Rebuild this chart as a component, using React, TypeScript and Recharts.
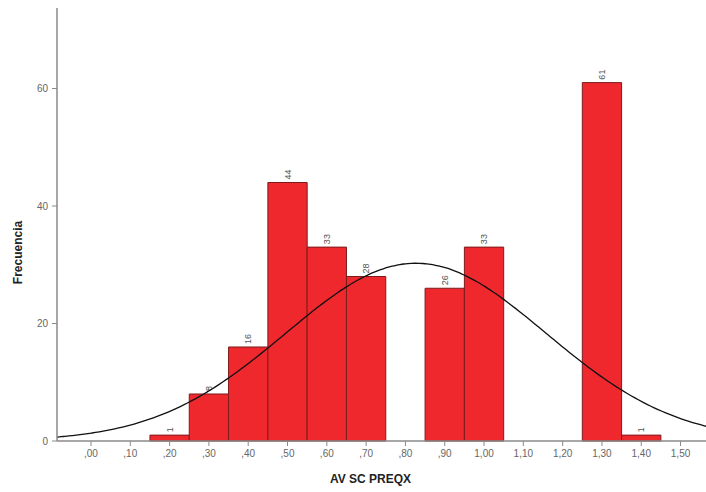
import React from "react";
import {
  ComposedChart,
  Line,
  XAxis,
  YAxis,
  ReferenceArea,
  Label,
} from "recharts";

// histogram bins (centre of each 0.10-wide class) and their counts
const binCenters = [0.2, 0.3, 0.4, 0.5, 0.6, 0.7, 0.9, 1.0, 1.3, 1.4];
const binCounts = [1, 8, 16, 44, 33, 28, 26, 33, 61, 1];
const binWidth = 0.1;

const xTicks = [0, 0.1, 0.2, 0.3, 0.4, 0.5, 0.6, 0.7, 0.8, 0.9, 1.0, 1.1, 1.2, 1.3, 1.4, 1.5];
const yTicks = [0, 20, 40, 60];

const X_MIN = -0.0865;
const X_MAX = 1.58;
const Y_MAX = 73.7;

const FONT = "'Liberation Sans', Arial, sans-serif";
const AXIS_GREY = "#8a8a8a";
const BAR_FILL = "#ef282e";
const BAR_EDGE = "#7d1b1b";

// normal curve fitted to the binned counts (same mean / sd, scaled to count * bin width)
const total = binCounts.reduce((a, b) => a + b, 0);
const mean = binCenters.reduce((s, x, i) => s + x * binCounts[i], 0) / total;
const variance =
  binCenters.reduce((s, x, i) => s + (x - mean) ** 2 * binCounts[i], 0) / total;
const sd = Math.sqrt(variance);

const normalCurve: { x: number; y: number }[] = [];
for (let i = 0; i <= 170; i++) {
  const x = X_MIN + ((X_MAX - X_MIN) * i) / 170;
  const y =
    ((total * binWidth) / (sd * Math.sqrt(2 * Math.PI))) *
    Math.exp(-((x - mean) ** 2) / (2 * variance));
  normalCurve.push({ x, y });
}

const fmtTick = (v: number) => {
  const s = v.toFixed(2).replace(".", ",");
  return s.startsWith("0") ? s.slice(1) : s;
};

function CountLabel(props: any) {
  const { viewBox, value } = props;
  if (!viewBox) return null;
  const cx = viewBox.x + viewBox.width / 2;
  const top = viewBox.y - 3;
  return (
    <text
      x={cx}
      y={top}
      transform={`rotate(-90 ${cx} ${top})`}
      textAnchor="start"
      dominantBaseline="central"
      fontSize={9}
      fontFamily={FONT}
      fill="#555"
    >
      {value}
    </text>
  );
}

export default function App() {
  return (
    <div
      style={{
        position: "absolute",
        left: 0,
        top: 0,
        width: 706,
        height: 492,
        overflow: "hidden",
        background: "#fff",
      }}
    >
      <ComposedChart
        width={712}
        height={492}
        margin={{ top: 8, right: 0, left: 7, bottom: 4 }}
      >
        <XAxis
          xAxisId="top"
          orientation="top"
          type="number"
          dataKey="x"
          domain={[X_MIN, X_MAX]}
          allowDataOverflow
          height={0}
          tick={false}
          tickLine={false}
          axisLine={{ stroke: AXIS_GREY, strokeWidth: 1.5 }}
        />
        <XAxis
          type="number"
          dataKey="x"
          domain={[X_MIN, X_MAX]}
          allowDataOverflow
          ticks={xTicks}
          interval={0}
          tickFormatter={fmtTick}
          height={47}
          tickSize={5}
          tickMargin={4}
          axisLine={{ stroke: AXIS_GREY, strokeWidth: 1.5 }}
          tickLine={{ stroke: AXIS_GREY }}
          tick={{ fontSize: 10, fill: "#666", fontFamily: FONT }}
        >
          <Label
            value="AV SC PREQX"
            position="insideBottom"
            offset={5}
            dx={-14}
            style={{ fontSize: 12, fontWeight: 700, fill: "#222", fontFamily: FONT }}
          />
        </XAxis>
        <YAxis
          type="number"
          domain={[0, Y_MAX]}
          allowDataOverflow
          ticks={yTicks}
          width={50}
          tickSize={5}
          tickMargin={4}
          axisLine={{ stroke: AXIS_GREY, strokeWidth: 1.5 }}
          tickLine={{ stroke: AXIS_GREY }}
          tick={{ fontSize: 10, fill: "#666", fontFamily: FONT }}
        >
          <Label
            content={({ viewBox }: any) => {
              const x = 18;
              const y = viewBox.y + viewBox.height / 2 + 28;
              return (
                <text
                  x={x}
                  y={y}
                  transform={`rotate(-90 ${x} ${y})`}
                  textAnchor="middle"
                  dominantBaseline="central"
                  fontSize={12}
                  fontWeight={700}
                  fontFamily={FONT}
                  fill="#222"
                >
                  Frecuencia
                </text>
              );
            }}
          />
        </YAxis>
        {binCenters.map((c, i) => (
          <ReferenceArea
            key={c}
            x1={c - binWidth / 2}
            x2={c + binWidth / 2}
            y1={0}
            y2={binCounts[i]}
            fill={BAR_FILL}
            fillOpacity={1}
            stroke={BAR_EDGE}
            strokeWidth={1}
            label={<CountLabel value={binCounts[i]} />}
          />
        ))}
        <Line
          data={normalCurve}
          dataKey="y"
          type="monotone"
          dot={false}
          stroke="#111"
          strokeWidth={1.3}
          isAnimationActive={false}
        />
      </ComposedChart>
    </div>
  );
}
